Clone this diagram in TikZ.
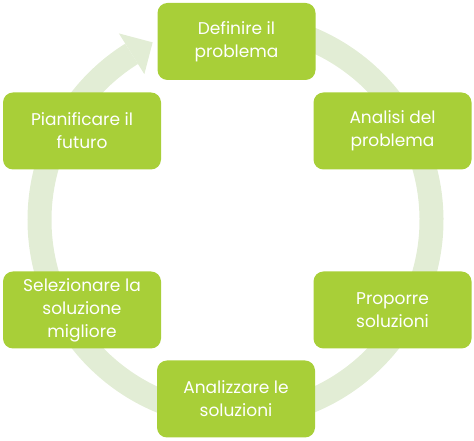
\documentclass[tikz,border=0pt]{standalone}
\usepackage{fontspec}
\setmainfont{Poppins}
\usetikzlibrary{calc}
\definecolor{boxgreen}{HTML}{A8CF38}
\definecolor{ringgreen}{HTML}{E2EDD5}
\begin{document}
\begin{tikzpicture}[x=1pt,y=1pt,
  stepbox/.style={fill=boxgreen, rounded corners=10pt, minimum width=158pt, minimum height=77pt,
    text=white, align=center, font=\fontsize{17}{23}\selectfont, inner sep=2pt}]
\useasboundingbox (0,0) rectangle (474,441);
\coordinate (c) at (235.5,221);
% ring arrow
\draw[ringgreen, line width=24pt] ($(c)+(95:196)$) arc[start angle=95, end angle=-238, radius=196];
\fill[ringgreen] ($(c)+(115:196)$) -- ($(c)+(122:220)$) -- ($(c)+(122:172)$) -- cycle;
% boxes
\node[stepbox] (n1) at (236.5,399.5) {Definire il\\problema};
\node[stepbox] (n2) at (392.5,310) {Analisi del\\problema};
\node[stepbox] (n3) at (392.5,131) {Proporre\\soluzioni};
\node[stepbox] (n4) at (236,42) {Analizzare le\\soluzioni};
\node[stepbox] (n5) at (82,131) {Selezionare la\\soluzione\\migliore};
\node[stepbox] (n6) at (82,310) {Pianificare il\\futuro};
\end{tikzpicture}
\end{document}
